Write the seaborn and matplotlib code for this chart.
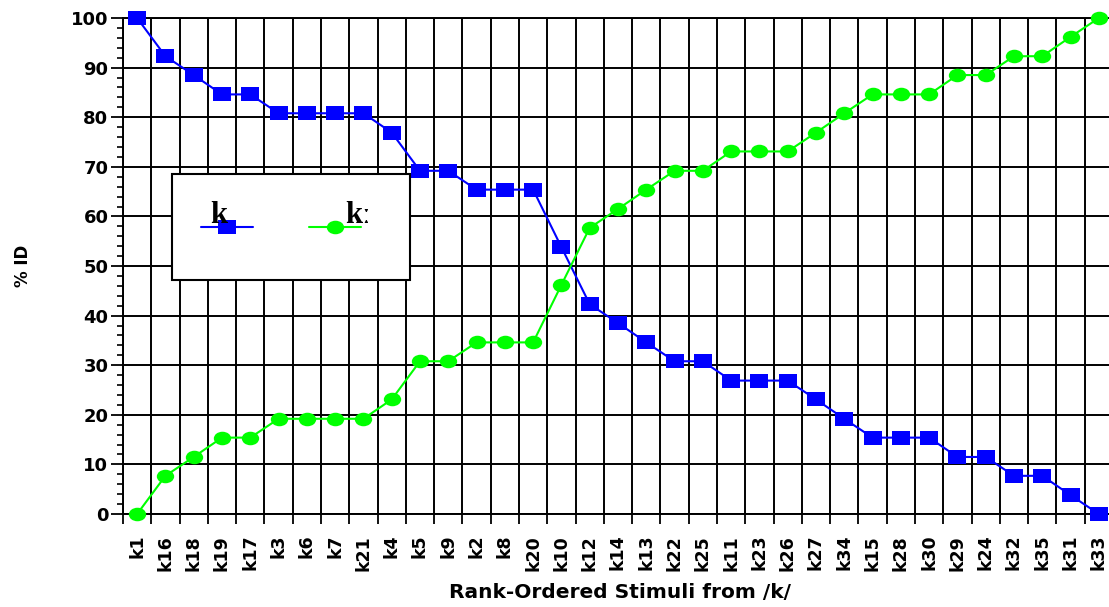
import seaborn as sns
import matplotlib.pyplot as plt
import numpy as np
import pandas as pd
from matplotlib.path import Path
from matplotlib.transforms import Affine2D
from matplotlib.patches import Rectangle
from matplotlib.lines import Line2D

# rank-ordered stimuli and % identification
stimuli = ["k1", "k16", "k18", "k19", "k17", "k3", "k6", "k7", "k21", "k4",
           "k5", "k9", "k2", "k8", "k20", "k10", "k12", "k14", "k13", "k22",
           "k25", "k11", "k23", "k26", "k27", "k34", "k15", "k28", "k30", "k29",
           "k24", "k32", "k35", "k31", "k33"]
pct_short = [100, 92.3, 88.5, 84.6, 84.6, 80.8, 80.8, 80.8, 80.8, 76.9,
             69.2, 69.2, 65.4, 65.4, 65.4, 53.8, 42.3, 38.5, 34.6, 30.8,
             30.8, 26.9, 26.9, 26.9, 23.1, 19.2, 15.4, 15.4, 15.4, 11.5,
             11.5, 7.7, 7.7, 3.8, 0]
pct_long = [0, 7.7, 11.5, 15.4, 15.4, 19.2, 19.2, 19.2, 19.2, 23.1,
            30.8, 30.8, 34.6, 34.6, 34.6, 46.2, 57.7, 61.5, 65.4, 69.2,
            69.2, 73.1, 73.1, 73.1, 76.9, 80.8, 84.6, 84.6, 84.6, 88.5,
            88.5, 92.3, 92.3, 96.2, 100]
labels = ["k", "kː"]

df = pd.DataFrame({"stim": stimuli, "short": pct_short, "long": pct_long})

sns.set_style("ticks")
plt.rcParams["font.family"] = ["DejaVu Sans"]
plt.rcParams["font.weight"] = "bold"
for key in ["text.color", "axes.labelcolor", "xtick.color", "ytick.color",
            "axes.edgecolor"]:
    plt.rcParams[key] = "black"

# slightly flattened markers, like the original
sq_marker = Path([(-1, -0.78), (1, -0.78), (1, 0.78), (-1, 0.78), (-1, -0.78)],
                 [Path.MOVETO, Path.LINETO, Path.LINETO, Path.LINETO, Path.CLOSEPOLY])
ell_marker = Path.unit_circle().transformed(Affine2D().scale(1, 0.78))

fig = plt.figure(figsize=(11.09, 6.07), dpi=100)
ax = fig.add_axes([0.1109, 0.1532, 0.8927, 0.8171])

sns.lineplot(data=df, x="stim", y="short", sort=False, color="#0000ff",
             linewidth=1.5, marker=sq_marker, markersize=12.5,
             markeredgewidth=0, clip_on=False, zorder=4, ax=ax)
sns.lineplot(data=df, x="stim", y="long", sort=False, color="#00ff00",
             linewidth=1.5, marker=ell_marker, markersize=12.5,
             markeredgewidth=0, clip_on=False, zorder=5, ax=ax)

n = len(stimuli)
ax.set_xlim(-0.5, n - 0.5)
ax.set_ylim(0, 100)

# category labels centred, ticks/grid on the boundaries
ax.set_xticks(np.arange(n))
ax.set_xticklabels(stimuli, rotation=90, fontsize=12.5, fontweight="bold")
ax.set_xticks(np.arange(n + 1) - 0.5, minor=True)
ax.tick_params(axis="x", which="major", length=0, pad=15)
ax.tick_params(axis="x", which="minor", length=7.5, width=1.3, color="black")

ax.set_yticks(np.arange(0, 101, 10))
ax.set_yticks(np.arange(0, 101, 2), minor=True)
ax.tick_params(axis="y", which="major", length=9, width=1.3, pad=1.5,
               labelsize=13, color="black")
ax.tick_params(axis="y", which="minor", length=4, width=1.2, color="black")
for t in ax.get_yticklabels():
    t.set_fontweight("bold")

ax.grid(False)
ax.xaxis.grid(True, which="minor", color="black", linewidth=1.4)
ax.yaxis.grid(True, which="major", color="black", linewidth=1.4)
ax.set_axisbelow(True)
for s in ax.spines.values():
    s.set_color("black")
    s.set_linewidth(1.4)

ax.set_xlabel("Rank-Ordered Stimuli from /k/", fontsize=14.5, fontweight="bold")
ax.xaxis.set_label_coords(0.502, -0.14)
ax.xaxis.label.set_va("top")
ax.set_ylabel("% ID", fontsize=12, fontweight="bold")
ax.yaxis.set_label_coords(-0.092, 0.5)

# legend box drawn by hand: labels sit above the handles
ax.add_patch(Rectangle((0.0495, 0.4718), 0.2404, 0.2137, transform=ax.transAxes,
                       facecolor="white", edgecolor="black", linewidth=1.5,
                       zorder=6))
ax.add_line(Line2D([0.0785, 0.1313], [0.5786, 0.5786], transform=ax.transAxes,
                   color="#0000ff", linewidth=1.5, zorder=7))
ax.add_line(Line2D([0.105], [0.5786], transform=ax.transAxes, color="#0000ff",
                   marker=sq_marker, markersize=12.5, markeredgewidth=0, zorder=7))
ax.add_line(Line2D([0.1879, 0.2404], [0.5786, 0.5786], transform=ax.transAxes,
                   color="#00ff00", linewidth=1.5, zorder=7))
ax.add_line(Line2D([0.2141], [0.5786], transform=ax.transAxes, color="#00ff00",
                   marker=ell_marker, markersize=12.5, markeredgewidth=0, zorder=7))
ax.text(0.0879, 0.5873, labels[0], transform=ax.transAxes, fontsize=22,
        fontweight="bold", family=["Liberation Serif", "DejaVu Serif"],
        color="black", va="baseline", ha="left", zorder=8)
ax.text(0.2242, 0.5873, labels[1], transform=ax.transAxes, fontsize=22,
        fontweight="bold", family=["Liberation Serif", "DejaVu Serif"],
        color="black", va="baseline", ha="left", zorder=8)

fig.savefig("out.png", dpi=100)
